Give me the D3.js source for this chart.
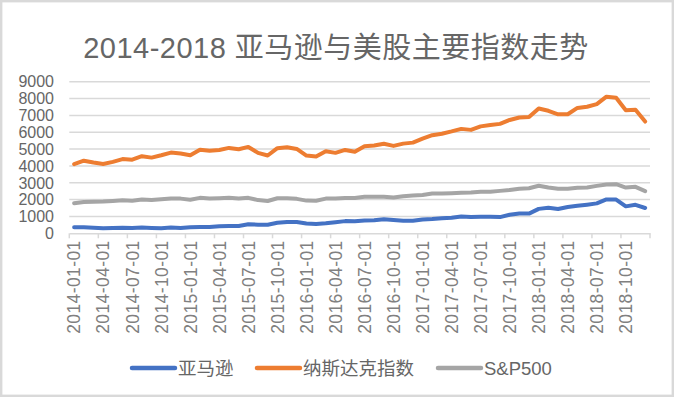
<!DOCTYPE html>
<html>
<head>
<meta charset="utf-8">
<script src="https://cdn.jsdelivr.net/npm/d3@7"></script>
<style>
  html, body { margin: 0; padding: 0; background: #fff; }
  svg { display: block; }
  text { font-family: 'Liberation Sans', 'Noto Sans CJK SC', sans-serif; }
</style>
</head>
<body>
<div id="chart"></div>
<script>
const title = '2014-2018 亚马逊与美股主要指数走势';
const seriesNames = ['亚马逊', '纳斯达克指数', 'S&P500'];
const colors = ['#4472C4', '#ED7D31', '#A5A5A5'];
const yTicks = [0, 1000, 2000, 3000, 4000, 5000, 6000, 7000, 8000, 9000];

// monthly, 2014-01 .. 2018-12
const months = d3.range(60).map(i => {
  const yr = 2014 + Math.floor(i / 12), m = (i % 12) + 1;
  return `${yr}-${String(m).padStart(2, '0')}-01`;
});

const amazon = [
  358, 362, 336, 304, 312, 325, 313, 340, 322, 305, 338, 310,
  354, 380, 372, 422, 429, 434, 536, 512, 512, 626, 665, 676,
  587, 553, 594, 660, 723, 716, 758, 769, 837, 790, 750, 750,
  824, 846, 887, 925, 995, 968, 987, 980, 961, 1105, 1177, 1169,
  1450, 1512, 1447, 1566, 1630, 1700, 1777, 2013, 2003, 1599, 1690, 1502
];
const nasdaq = [
  4104, 4308, 4199, 4115, 4243, 4408, 4370, 4580, 4493, 4631, 4792, 4736,
  4635, 4964, 4901, 4941, 5070, 4987, 5128, 4777, 4620, 5054, 5109, 5007,
  4614, 4558, 4870, 4775, 4948, 4843, 5162, 5213, 5312, 5189, 5324, 5383,
  5615, 5825, 5912, 6048, 6199, 6140, 6348, 6429, 6496, 6728, 6874, 6903,
  7411, 7273, 7063, 7066, 7442, 7510, 7672, 8110, 8046, 7306, 7331, 6635
];
const sp500 = [
  1783, 1859, 1872, 1884, 1924, 1960, 1931, 2003, 1972, 2018, 2068, 2059,
  1995, 2105, 2068, 2086, 2107, 2063, 2104, 1972, 1920, 2079, 2080, 2044,
  1940, 1932, 2060, 2065, 2097, 2099, 2174, 2171, 2168, 2126, 2199, 2239,
  2279, 2364, 2363, 2384, 2412, 2423, 2470, 2472, 2519, 2575, 2648, 2674,
  2824, 2714, 2641, 2648, 2705, 2718, 2816, 2902, 2914, 2712, 2760, 2507
];

const W = 674, H = 397;
const plotLeft = 69.3, plotRight = 650, plotTop = 81.7, plotBottom = 233.3;

const svg = d3.select('#chart').append('svg')
  .attr('width', W)
  .attr('height', H);

svg.append('rect')
  .attr('x', 1.2).attr('y', 1.2)
  .attr('width', W - 2.4).attr('height', H - 2.4)
  .attr('fill', '#fff')
  .attr('stroke', '#d9d9d9')
  .attr('stroke-width', 2.4);

svg.append('text')
  .attr('x', 336).attr('y', 58)
  .attr('text-anchor', 'middle')
  .attr('fill', '#666666')
  .style('font-size', '29px')
  .style('letter-spacing', '0.5px')
  .text(title);

const x = d3.scaleBand().domain(months).range([plotLeft, plotRight]);
const y = d3.scaleLinear().domain([0, 9000]).range([plotBottom, plotTop]);

// gridlines
svg.append('g')
  .selectAll('line')
  .data(yTicks.slice(1))
  .enter()
  .append('line')
  .attr('x1', plotLeft).attr('x2', plotRight)
  .attr('y1', d => y(d)).attr('y2', d => y(d))
  .attr('stroke', '#d9d9d9')
  .attr('stroke-width', 1.5);

// y labels
svg.append('g')
  .selectAll('text')
  .data(yTicks)
  .enter()
  .append('text')
  .attr('x', 54)
  .attr('y', d => y(d))
  .attr('dy', '0.36em')
  .attr('text-anchor', 'end')
  .attr('fill', '#666666')
  .style('font-size', '16px')
  .text(d => d);

// x axis
const labelMonths = months.filter((d, i) => i % 3 === 0);
const xAxis = d3.axisBottom(x)
  .tickValues(labelMonths)
  .tickSize(0)
  .tickFormat(d => d);

const gx = svg.append('g')
  .attr('transform', `translate(0,${plotBottom})`)
  .call(xAxis);
gx.select('.domain').attr('stroke', '#d9d9d9').attr('stroke-width', 1.5);
gx.selectAll('text')
  .attr('transform', 'rotate(-90)')
  .attr('x', -7)
  .attr('y', 0)
  .attr('dy', '0.36em')
  .attr('text-anchor', 'end')
  .attr('fill', '#808080')
  .style('font-family', "'Liberation Sans', sans-serif")
  .style('font-size', '17.5px')
  .style('letter-spacing', '0.4px');

// tick marks between quarters
const bounds = labelMonths.map(d => x(d)).concat([plotRight]);
svg.append('g')
  .selectAll('line')
  .data(bounds)
  .enter()
  .append('line')
  .attr('x1', d => d).attr('x2', d => d)
  .attr('y1', plotBottom).attr('y2', plotBottom + 5)
  .attr('stroke', '#d9d9d9')
  .attr('stroke-width', 1.5);

const line = d3.line()
  .x((d, i) => x(months[i]) + x.bandwidth() / 2)
  .y(d => y(d));

[amazon, nasdaq, sp500].forEach((vals, k) => {
  svg.append('path')
    .datum(vals)
    .attr('fill', 'none')
    .attr('stroke', colors[k])
    .attr('stroke-width', 4)
    .attr('stroke-linejoin', 'round')
    .attr('stroke-linecap', 'round')
    .attr('d', line);
});

// legend
const legendX = [132, 257, 438];
const legend = svg.append('g');
seriesNames.forEach((name, k) => {
  const g = legend.append('g').attr('transform', `translate(${legendX[k]},368)`);
  g.append('line')
    .attr('x1', 0).attr('x2', 43)
    .attr('stroke', colors[k])
    .attr('stroke-width', 4.5)
    .attr('stroke-linecap', 'round');
  g.append('text')
    .attr('x', 46)
    .attr('dy', '0.36em')
    .attr('fill', '#666666')
    .style('font-size', '18.5px')
    .text(name);
});
</script>
</body>
</html>
